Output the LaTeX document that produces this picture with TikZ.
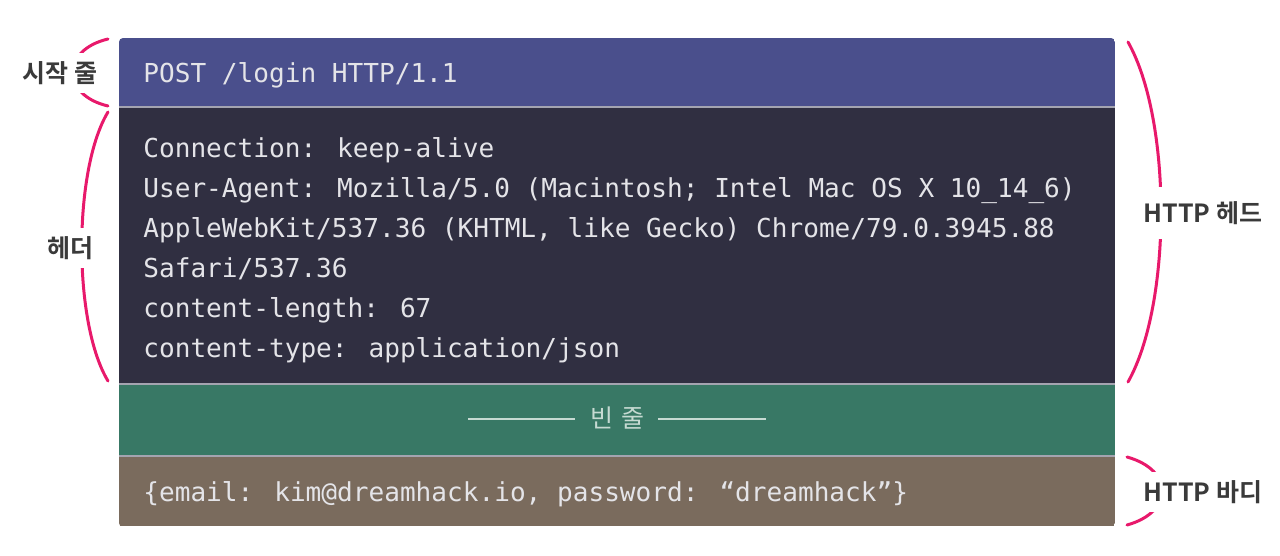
\documentclass[tikz,border=0pt]{standalone}
\usepackage{fontspec}
\newfontfamily\kr{Noto Sans CJK KR}[BoldFont={Noto Sans CJK KR Bold}]
\newfontfamily\mono{DejaVu Sans Mono}
\definecolor{bandblue}{HTML}{4A4F8C}
\definecolor{banddark}{HTML}{302F41}
\definecolor{bandgreen}{HTML}{387865}
\definecolor{bandbrown}{HTML}{7A6B5D}
\definecolor{sepgray}{HTML}{A4A4B0}
\definecolor{codegray}{HTML}{E4E4E8}
\definecolor{bracepink}{HTML}{E8196B}
\definecolor{lblgray}{HTML}{3A3A3A}
\definecolor{greenline}{HTML}{C6DAD2}
\begin{document}
\begin{tikzpicture}[x=0.5pt,y=-0.5pt,
  band/.style={draw=none, minimum width=498pt, inner sep=0, outer sep=0, anchor=north west},
  code/.style={font=\mono\fontsize{13.05}{20}\selectfont, text=codegray, anchor=base west, inner sep=0},
  lbl/.style={font=\kr\bfseries\fontsize{12.5}{15}\selectfont, text=lblgray, fill=white, inner xsep=2pt, inner ysep=4pt},
  brace/.style={draw=bracepink, line width=1.5pt, line cap=round},
  sepline/.style={draw=sepgray, line width=1pt}]
\useasboundingbox (0,0) rectangle (1280,556);
\begin{scope}
\clip[rounded corners=2pt] (119,38) rectangle (1115,527);
\node[band, fill=bandblue, minimum height=34.5pt] (start) at (119,38) {};
\node[band, fill=banddark, minimum height=138.5pt] (head) at (119,107) {};
\node[band, fill=bandgreen, minimum height=36pt] (blankband) at (119,384) {};
\node[band, fill=bandbrown, minimum height=35pt] (body) at (119,456) {};
\end{scope}
\draw[sepline] (start.south west) -- (start.south east);
\draw[sepline] (head.south west) -- (head.south east);
\draw[sepline] (blankband.south west) -- (blankband.south east);

\node[code] (l0) at (143,82.5) {POST /login HTTP/1.1};
\node[code] (l1) at (143,157.5) {Connection: keep-alive};
\node[code] (l2) at (143,197.5) {User-Agent: Mozilla/5.0 (Macintosh; Intel Mac OS X 10\_14\_6)};
\node[code] (l3) at (143,237.5) {AppleWebKit/537.36 (KHTML, like Gecko) Chrome/79.0.3945.88};
\node[code] (l4) at (143,277.5) {Safari/537.36};
\node[code] (l5) at (143,317.5) {content-length: 67};
\node[code] (l6) at (143,357.5) {content-type: application/json};
\node[code] (l7) at (143,501.5) {\{email: kim@dreamhack.io, password: “dreamhack”\}};

\node[font=\kr\fontsize{12.5}{15}\selectfont, text=greenline, inner sep=0] (blank) at (617,418) {빈\hspace{4pt}줄};
\coordinate (gl1) at (468,419);
\coordinate (gl2) at (575,419);
\coordinate (gr1) at (658,419);
\coordinate (gr2) at (766,419);
\draw[greenline, line width=1pt] (gl1) -- (gl2);
\draw[greenline, line width=1pt] (gr1) -- (gr2);

% braces
\coordinate (s1) at (108,39);
\coordinate (s2) at (108,106);
\draw[brace] (s1) .. controls (61,50) and (61,95) .. (s2);
\coordinate (h1) at (108,112);
\coordinate (h2) at (108,381);
\draw[brace] (h1) .. controls (73,170) and (73,323) .. (h2);
\coordinate (r1) at (1128,42);
\coordinate (r2) at (1128,382);
\draw[brace] (r1) .. controls (1172,120) and (1172,304) .. (r2);
\coordinate (b1) at (1127,457);
\coordinate (b2) at (1127,525);
\draw[brace] (b1) .. controls (1174,470) and (1174,512) .. (b2);

\node[lbl] (lstart) at (60,73) {시작 줄};
\node[lbl] (lhead) at (70,248) {헤더};
\node[lbl, inner ysep=7pt] (rhead) at (1203,213) {HTTP 헤드};
\node[lbl] (rbody) at (1203,492) {HTTP 바디};
\end{tikzpicture}
\end{document}
